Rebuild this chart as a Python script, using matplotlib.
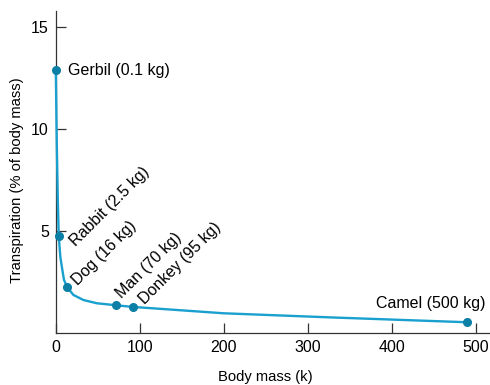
import matplotlib.pyplot as plt

plt.rcParams['font.family'] = ['Liberation Sans', 'DejaVu Sans']

# точки на кривой (животные)
animals = ['Gerbil (0.1 kg)', 'Rabbit (2.5 kg)', 'Dog (16 kg)', 'Man (70 kg)',
           'Donkey (95 kg)', 'Camel (500 kg)']
mass = [0.1, 3.6, 13.8, 72, 92.5, 490]
transp = [12.9, 4.78, 2.26, 1.38, 1.30, 0.55]

# форма кривой
curve_x = [0.1, 1.2, 2.5, 3.6, 5.5, 7.9, 9.9, 13.8, 21, 33, 49, 61, 72, 92.5, 200, 326, 490]
curve_y = [12.9, 9.5, 6.5, 4.78, 3.75, 3.11, 2.62, 2.26, 1.89, 1.64, 1.48, 1.43, 1.38, 1.30,
           0.99, 0.79, 0.55]

xticks = [0, 100, 200, 300, 400, 500]
yticks = [5, 10, 15]

line_color = '#19a0cf'
dot_color = '#0b7fa5'
fs = 11.5

fig = plt.figure(figsize=(4.9, 3.85), dpi=100)
ax = fig.add_axes([0.1137, 0.1338, 0.8863, 0.8376])

ax.plot(curve_x, curve_y, color=line_color, lw=1.7, solid_capstyle='round',
        solid_joinstyle='round', zorder=4, clip_on=False)
ax.plot(mass, transp, 'o', color=dot_color, ms=5.5, zorder=5, clip_on=False)

# подписи
ax.annotate(animals[0], (mass[0], transp[0]), xytext=(8.6, 0), textcoords='offset points',
            ha='left', va='center', fontsize=fs)
rot_offsets = [(12.5, -8), (7.8, 1), (4.2, 4.4), (8, 1.5)]
for i, off in zip(range(1, 5), rot_offsets):
    ax.annotate(animals[i], (mass[i], transp[i]), xytext=off, textcoords='offset points',
                ha='left', va='baseline', rotation=45, rotation_mode='anchor', fontsize=fs)
ax.annotate(animals[5], (mass[5], transp[5]), xytext=(-26.5, 13.7), textcoords='offset points',
            ha='center', va='center', fontsize=fs)

ax.set_xlim(0, 517)
ax.set_ylim(0, 15.8)
ax.set_xticks(xticks)
ax.set_yticks(yticks)
ax.tick_params(direction='in', length=7, width=0.9, color='#333333', labelsize=fs, pad=5)
for s in ['top', 'right']:
    ax.spines[s].set_visible(False)
for s in ['left', 'bottom']:
    ax.spines[s].set_color('#333333')
    ax.spines[s].set_linewidth(0.9)

ax.set_xlabel('Body mass (k)', fontsize=10.6)
ax.set_ylabel('Transpiration (% of body mass)', fontsize=10.6)
ax.xaxis.set_label_coords(0.482, -0.113)
ax.yaxis.set_label_coords(-0.072, 0.476)

fig.savefig('out.png', dpi=100)
